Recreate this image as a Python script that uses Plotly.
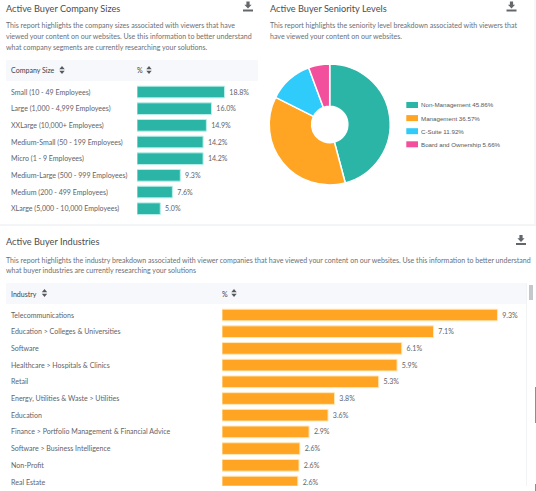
import plotly.graph_objects as go

W, H = 536, 491

size_cats = ["Small (10 - 49 Employees)", "Large (1,000 - 4,999 Employees)", "XXLarge (10,000+ Employees)",
             "Medium-Small (50 - 199 Employees)", "Micro (1 - 9 Employees)", "Medium-Large (500 - 999 Employees)",
             "Medium (200 - 499 Employees)", "XLarge (5,000 - 10,000 Employees)"]
size_vals = [18.8, 16.0, 14.9, 14.2, 14.2, 9.3, 7.6, 5.0]

ind_cats = ["Telecommunications", "Education > Colleges & Universities", "Software", "Healthcare > Hospitals & Clinics",
            "Retail", "Energy, Utilities & Waste > Utilities", "Education", "Finance > Portfolio Management & Financial Advice",
            "Software > Business Intelligence", "Non-Profit", "Real Estate"]
ind_vals = [9.3, 7.14, 6.07, 5.91, 5.29, 3.8, 3.58, 2.94, 2.63, 2.6, 2.56]

sen_labels = ["Non-Management", "Management", "C-Suite", "Board and Ownership"]
sen_vals = [45.86, 36.57, 11.92, 5.66]
sen_text = ["45.86%", "36.57%", "11.92%", "5.66%"]
sen_colors = ["#2bb5a6", "#ffa523", "#2ecbfb", "#f24f9c"]

TEAL, ORANGE = "#2bb5a6", "#ffa523"
TXT, DESC, TITLE = "#5f6368", "#6b6f75", "#4a4d52"
FONT = "Lato"
BODY = 7.05
HEAD = 9.2
GAP = "\u00a0"


def px(x): return x / W
def py(y): return 1 - y / H


shapes, notes = [], []


def text(x, y, s, size, color=TXT, anchor="left"):
    notes.append(dict(x=px(x), y=py(y), xref="paper", yref="paper", text=s, showarrow=False, xanchor=anchor,
                      yanchor="middle", font=dict(family=FONT, size=size, color=color), align="left",
                      borderpad=0, borderwidth=0))


def rect(x0, y0, x1, y1, color):
    shapes.append(dict(type="rect", xref="paper", yref="paper", x0=px(x0), x1=px(x1), y0=py(y1), y1=py(y0),
                       fillcolor=color, line=dict(width=0), layer="below"))


def poly(points, color):
    path = "M" + " L".join(f"{px(a):.5f},{py(b):.5f}" for a, b in points) + " Z"
    shapes.append(dict(type="path", xref="paper", yref="paper", path=path, fillcolor=color, line=dict(width=0)))


def sort_icon(cx, cy):
    poly([(cx - 2.7, cy - 0.7), (cx + 2.7, cy - 0.7), (cx, cy - 4)], "#55585d")
    poly([(cx - 2.7, cy + 0.7), (cx + 2.7, cy + 0.7), (cx, cy + 4)], "#55585d")


def download(cx, top):
    c = "#63676c"
    poly([(cx - 1.6, top), (cx + 1.6, top), (cx + 1.6, top + 3.2), (cx + 3.6, top + 3.2), (cx, top + 7),
          (cx - 3.6, top + 3.2), (cx - 1.6, top + 3.2)], c)
    rect(cx - 5, top + 8, cx + 5, top + 10, c)


# section chrome
rect(0, 224.5, 536, 225.5, "#e9ebee")
rect(534.5, 0, 535.5, 224, "#eef0f2")
rect(6, 60, 258, 81, "#f7f8fc")
rect(6, 283, 526, 304, "#f7f8fc")
rect(526.5, 283, 527, 486, "#e6e8eb")
rect(529, 285, 533, 300, "#c4c7cb")
rect(535, 387, 536, 423, "#e8742a")
rect(535, 484, 536, 491, "#e8742a")

# headings
text(6, 8.5, "Active Buyer Company Sizes", HEAD, TITLE)
text(269.5, 8.5, "Active Buyer Seniority Levels", HEAD, TITLE)
text(6, 241.5, "Active Buyer Industries", HEAD, TITLE)
for i, s in enumerate(["This report highlights the company sizes associated with viewers that have",
                       "viewed your content on our websites. Use this information to better understand",
                       "what company segments are currently researching your solutions."]):
    text(6, 26 + i * 10.6, s, BODY, DESC)
for i, s in enumerate(["This report highlights the seniority level breakdown associated with viewers that",
                       "have viewed your content on our websites."]):
    text(269.5, 26 + i * 10.6, s, BODY, DESC)
for i, s in enumerate(["This report highlights the industry breakdown associated with viewer companies that have viewed your content on our websites. Use this information to better understand",
                       "what buyer industries are currently researching your solutions"]):
    text(6, 260 + i * 10.6, s, BODY, DESC)

text(11, 71, "Company Size", BODY, "#3f4246")
text(137, 71, "%", BODY, "#3f4246")
text(11, 294, "Industry", BODY, "#3f4246")
text(222, 294, "%", BODY, "#3f4246")
sort_icon(62, 70)
sort_icon(149, 70)
sort_icon(44.5, 293)
sort_icon(234, 293)
download(248, 1.5)
download(511.5, 1.5)
download(521, 235)

# pie legend
for i, (lab, val, col) in enumerate(zip(sen_labels, sen_text, sen_colors)):
    yy = 105 + i * 13.1
    rect(406.3, yy - 3, 418, yy + 3, col)
    notes.append(dict(x=px(421.3), y=py(yy), xref="paper", yref="paper", text=f"{lab} {val}", showarrow=False,
                      xanchor="left", yanchor="middle", borderpad=0, borderwidth=0,
                      font=dict(family="Liberation Sans", size=6.2, color="#55585d")))


def y_range(top, bottom, first, step):
    return [(bottom - first) / step, (top - first) / step]


fig = go.Figure()
fig.add_trace(go.Bar(x=size_vals, y=size_cats, orientation="h", xaxis="x", yaxis="y", width=0.7,
                     marker=dict(color=TEAL, line=dict(color="#b5efe8", width=1)),
                     text=[f"{GAP}{v:.1f}%" for v in size_vals], textposition="outside", cliponaxis=False,
                     constraintext="none", textfont=dict(family=FONT, size=BODY, color=TXT), hoverinfo="skip"))
fig.add_trace(go.Bar(x=ind_vals, y=ind_cats, orientation="h", xaxis="x2", yaxis="y2", width=0.7,
                     marker=dict(color=ORANGE, line=dict(color="#ffe7b8", width=1)),
                     text=[f"{GAP}{v:.1f}%" for v in ind_vals], textposition="outside", cliponaxis=True,
                     constraintext="none", textfont=dict(family=FONT, size=BODY, color=TXT), hoverinfo="skip"))
fig.add_trace(go.Pie(labels=sen_labels, values=sen_vals, sort=False, direction="clockwise", rotation=0, hole=0.3,
                     marker=dict(colors=sen_colors, line=dict(color="#ffffff", width=1.5)), textinfo="none",
                     hoverinfo="skip", showlegend=False,
                     domain=dict(x=[px(329.7 - 60.5), px(329.7 + 60.5)], y=[py(124.5 + 60.5), py(124.5 - 60.5)])))

for c in size_cats:
    notes.append(dict(x=px(11), y=c, xref="paper", yref="y", text=c, showarrow=False, xanchor="left", yanchor="middle",
                      borderpad=0, borderwidth=0, font=dict(family=FONT, size=BODY, color=TXT)))
for c in ind_cats:
    notes.append(dict(x=px(11), y=c, xref="paper", yref="y2", text=c, showarrow=False, xanchor="left", yanchor="middle",
                      borderpad=0, borderwidth=0, font=dict(family=FONT, size=BODY, color=TXT)))

hidden = dict(showgrid=False, zeroline=False, showticklabels=False, ticks="", showline=False, fixedrange=True)
fig.update_layout(
    width=W, height=H, autosize=False, margin=dict(l=0, r=0, t=0, b=0), paper_bgcolor="#ffffff",
    plot_bgcolor="rgba(0,0,0,0)", showlegend=False, font=dict(family=FONT),
    xaxis=dict(hidden, domain=[px(137), px(258)], range=[0, 121 / 4.655]),
    yaxis=dict(hidden, domain=[py(218), py(84)], type="category", categoryorder="array", categoryarray=size_cats,
               range=y_range(84, 218, 92, 16.67)),
    xaxis2=dict(hidden, domain=[px(222), px(526)], range=[0, 304 / 29.62], anchor="y2"),
    yaxis2=dict(hidden, domain=[py(485.7), py(306)], type="category", categoryorder="array", categoryarray=ind_cats,
                range=y_range(306, 485.7, 315, 16.7), anchor="x2"),
    shapes=shapes, annotations=notes,
)
fig.write_html("out.html", config=dict(displayModeBar=False),
               post_script="document.body.style.margin='0';document.documentElement.style.overflow='hidden';")
